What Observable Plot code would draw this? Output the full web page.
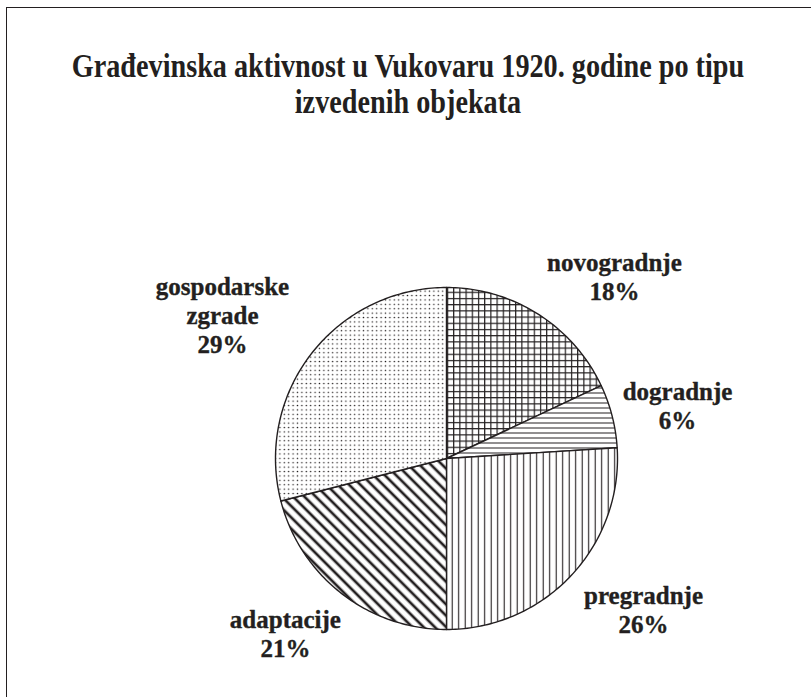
<!DOCTYPE html>
<html>
<head>
<meta charset="utf-8">
<script src="https://cdn.jsdelivr.net/npm/d3@7"></script>
<script src="https://cdn.jsdelivr.net/npm/@observablehq/plot@0.6"></script>
<style>
  html, body { margin: 0; padding: 0; background: #fff; }
  #wrap { position: relative; width: 811px; height: 697px; overflow: hidden; background: #fff; }
  #frame { position: absolute; left: 6px; top: 7px; width: 830px; height: 720px;
           border-top: 1.6px solid #231f20; border-left: 1.6px solid #231f20; box-sizing: border-box; }
  #title { position: relative; height: 130px; width: 811px; font-family: "Liberation Serif", serif;
           font-weight: bold; color: #231f20; }
  .tl { position: absolute; white-space: nowrap; font-size: 34px; line-height: 30px; }
  #chart { position: relative; }
</style>
</head>
<body>
<div id="wrap">
  <div id="frame"></div>
  <div id="title"></div>
  <div id="chart"></div>
</div>
<script>
// ---- data ----
const titleLines = ["Građevinska aktivnost u Vukovaru 1920. godine po tipu", "izvedenih objekata"];
const categories = ["novogradnje", "dogradnje", "pregradnje", "adaptacije", "gospodarske zgrade"];
const labelLines = ["novogradnje", "dogradnje", "pregradnje", "adaptacije", "gospodarske\nzgrade"];
const shares = [18, 6, 26, 21, 29];
const patternIds = ["pGrid", "pHLines", "pVLines", "pDiag", "pDots"];

// ---- layout ----
const W = 811, H = 567, CX = 446, CY = 328, R = 171;
const labelPos = [[0.982, 1.216], [1.351, 0.462], [1.152, -0.731], [-0.942, -0.871], [-1.310, 1.076]];
const titleCenter = 408, titleWidth = 673, titleTops = [51, 87];
const ink = "#231f20";

// ---- title ----
const ctx = document.createElement("canvas").getContext("2d");
ctx.font = "bold 34px 'Liberation Serif'";
const k = titleWidth / ctx.measureText(titleLines[0]).width;
const tdiv = document.getElementById("title");
titleLines.forEach((t, i) => {
  const d = document.createElement("div");
  d.className = "tl";
  d.textContent = t;
  d.style.left = titleCenter + "px";
  d.style.top = titleTops[i] + "px";
  d.style.transform = `translateX(-50%) scaleX(${k.toFixed(4)})`;
  tdiv.appendChild(d);
});

// ---- slices ----
const total = d3.sum(shares);
const pts = [];
let acc = 0;
categories.forEach((c, i) => {
  const a0 = acc / total * 2 * Math.PI;
  acc += shares[i];
  const a1 = acc / total * 2 * Math.PI;
  pts.push({c, x: 0, y: 0});
  const n = Math.max(2, Math.ceil((a1 - a0) / (Math.PI / 180)));
  for (let j = 0; j <= n; j++) {
    const a = a0 + (a1 - a0) * j / n;
    pts.push({c, x: Math.sin(a), y: Math.cos(a)});
  }
});

const labels = categories.map((c, i) => ({
  c, text: labelLines[i] + "\n" + shares[i] + "%", x: labelPos[i][0], y: labelPos[i][1]
}));

function defsMark() {
  const defs = d3.create("svg:defs");
  const mk = (id, w, h, extra) => {
    const p = defs.append("pattern").attr("id", id).attr("patternUnits", "userSpaceOnUse")
      .attr("width", w).attr("height", h);
    if (extra) p.attr("patternTransform", extra);
    p.append("rect").attr("width", w).attr("height", h).attr("fill", "#fff");
    return p;
  };
  let p = mk("pGrid", 6.2, 6.2);
  p.append("line").attr("x1", 0).attr("x2", 6.2).attr("y1", 0.6).attr("y2", 0.6).attr("stroke", ink).attr("stroke-width", 1.2);
  p.append("line").attr("y1", 0).attr("y2", 6.2).attr("x1", 0.6).attr("x2", 0.6).attr("stroke", ink).attr("stroke-width", 1.2);
  p = mk("pHLines", 10, 5);
  p.append("line").attr("x1", 0).attr("x2", 10).attr("y1", 2.5).attr("y2", 2.5).attr("stroke", ink).attr("stroke-width", 1);
  p = mk("pVLines", 6.5, 10);
  p.append("line").attr("y1", 0).attr("y2", 10).attr("x1", 3.2).attr("x2", 3.2).attr("stroke", ink).attr("stroke-width", 1.1);
  p = mk("pDiag", 8, 10, "rotate(-45)");
  p.append("line").attr("y1", 0).attr("y2", 10).attr("x1", 4).attr("x2", 4).attr("stroke", ink).attr("stroke-width", 2.7);
  p = mk("pDots", 4.4, 4.4);
  p.append("circle").attr("cx", 2.2).attr("cy", 2.2).attr("r", 0.75).attr("fill", ink);
  return defs.node();
}

const chart = Plot.plot({
  width: W,
  height: H,
  margin: 0,
  x: {domain: [-CX / R, (W - CX) / R], axis: null},
  y: {domain: [-(H - CY) / R, CY / R], axis: null},
  color: {type: "ordinal", domain: categories, range: patternIds.map(id => `url(#${id})`)},
  style: {background: "transparent", overflow: "visible"},
  marks: [
    defsMark,
    Plot.line(pts, {x: "x", y: "y", z: "c", fill: "c", stroke: ink, strokeWidth: 1.4,
                    strokeLinejoin: "round", curve: "linear-closed"}),
    Plot.text(labels, {x: "x", y: "y", text: "text", fill: ink, fontSize: 25, fontWeight: "bold",
                       fontFamily: "'Liberation Serif', serif", lineAnchor: "top", lineHeight: 1.16,
                       textAnchor: "middle", stroke: ink, strokeWidth: 0.35})
  ]
});
document.getElementById("chart").appendChild(chart);
</script>
</body>
</html>
